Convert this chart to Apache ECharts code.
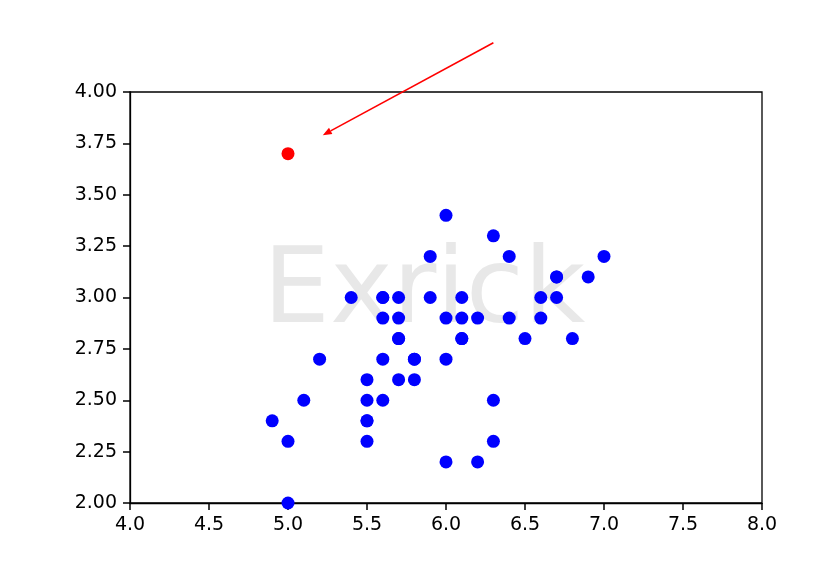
<!DOCTYPE html>
<html><head><meta charset="utf-8">
<script src="https://cdn.jsdelivr.net/npm/echarts@6/dist/echarts.min.js"></script>
<style>html,body{margin:0;padding:0;background:#fff}#c{width:833px;height:575px}</style>
</head><body><div id="c"></div>
<script>
// Blue points: [x, y]
const blueX = [7.0,6.4,6.9,5.5,6.5,5.7,6.3,4.9,6.6,5.2,5.0,5.9,6.0,6.1,5.6,6.7,5.6,5.8,6.2,5.6,5.9,6.1,6.3,6.1,6.4,6.6,6.8,6.7,6.0,5.7,5.5,5.5,5.8,6.0,5.4,6.0,6.7,6.3,5.6,5.5,5.5,6.1,5.8,5.0,5.6,5.7,5.7,6.2,5.1,5.7];
const blueY = [3.2,3.2,3.1,2.3,2.8,2.8,3.3,2.4,2.9,2.7,2.0,3.0,2.2,2.9,2.9,3.1,3.0,2.7,2.2,2.5,3.2,2.8,2.5,2.8,2.9,3.0,2.8,3.0,2.9,2.6,2.4,2.4,2.7,2.7,3.0,3.4,3.1,2.3,3.0,2.5,2.6,3.0,2.6,2.3,2.7,3.0,2.9,2.9,2.5,2.8];
const redX = [5.0];
const redY = [3.7];
// Annotation arrow: from (text position) to (arrow tip)
const arrowFrom = [6.3, 4.24];
const arrowTo = [5.22, 3.79];
const watermark = 'Exrick';
const xTicks = [4.0,4.5,5.0,5.5,6.0,6.5,7.0,7.5,8.0];
const yTicks = [2.0,2.25,2.5,2.75,3.0,3.25,3.5,3.75,4.0];

const font = 'DejaVu Sans';
const chart = echarts.init(document.getElementById('c'));
chart.setOption({
  animation: false,
  grid: {left: 130, right: 71, top: 92, bottom: 72, show: true, borderColor: '#000', borderWidth: 1.3},
  xAxis: {
    type: 'value', min: xTicks[0], max: xTicks[xTicks.length-1], interval: 0.5,
    splitLine: {show: true, lineStyle: {color: 'rgba(0,0,0,0)', width: 0}},
    axisLine: {show: true, onZero: false, lineStyle: {color: '#000', width: 1.3}},
    axisTick: {show: true, inside: false, length: 7, lineStyle: {color: '#000', width: 1.5}},
    axisLabel: {color: '#000', fontFamily: font, fontSize: 19, margin: 13, formatter: v => v.toFixed(1)}
  },
  yAxis: {
    type: 'value', min: yTicks[0], max: yTicks[yTicks.length-1], interval: 0.25,
    splitLine: {show: true, lineStyle: {color: 'rgba(0,0,0,0)', width: 0}},
    axisLine: {show: true, onZero: false, lineStyle: {color: '#000', width: 1.3}},
    axisTick: {show: true, inside: false, length: 7, lineStyle: {color: '#000', width: 1.5}},
    axisLabel: {color: '#000', fontFamily: font, fontSize: 19, margin: 13, formatter: v => v.toFixed(2)}
  },
  graphic: [
    {type: 'text', z: 0, left: 263, top: 241, silent: true, style: {text: watermark, fontFamily: font, fontSize: 106, fill: 'rgba(128,128,128,0.18)'}}
  ],
  series: [
    {type: 'scatter', symbolSize: 13, itemStyle: {color: '#0000ff', opacity: 1},
     data: blueX.map((x, i) => [x, blueY[i]])},
    {type: 'scatter', symbolSize: 13, itemStyle: {color: '#ff0000', opacity: 1},
     data: redX.map((x, i) => [x, redY[i]])},
    {type: 'custom', clip: false, silent: true,
     data: [[arrowFrom[0], arrowFrom[1], arrowTo[0], arrowTo[1]]],
     renderItem: function (params, api) {
       const p0 = api.coord([api.value(0), api.value(1)]);
       const p1 = api.coord([api.value(2), api.value(3)]);
       const dx = p1[0]-p0[0], dy = p1[1]-p0[1];
       const L = Math.sqrt(dx*dx+dy*dy);
       const ux = dx/L, uy = dy/L;
       const hl = 9, hw = 3.5;
       const bx = p1[0]-ux*hl, by = p1[1]-uy*hl;
       return {type: 'group', children: [
         {type: 'line', shape: {x1: p0[0], y1: p0[1], x2: bx, y2: by}, style: {stroke: '#ff0000', lineWidth: 1.6}},
         {type: 'polygon', shape: {points: [[p1[0], p1[1]], [bx - uy*hw, by + ux*hw], [bx + uy*hw, by - ux*hw]]}, style: {fill: '#ff0000'}}
       ]};
     }}
  ]
});
</script></body></html>
